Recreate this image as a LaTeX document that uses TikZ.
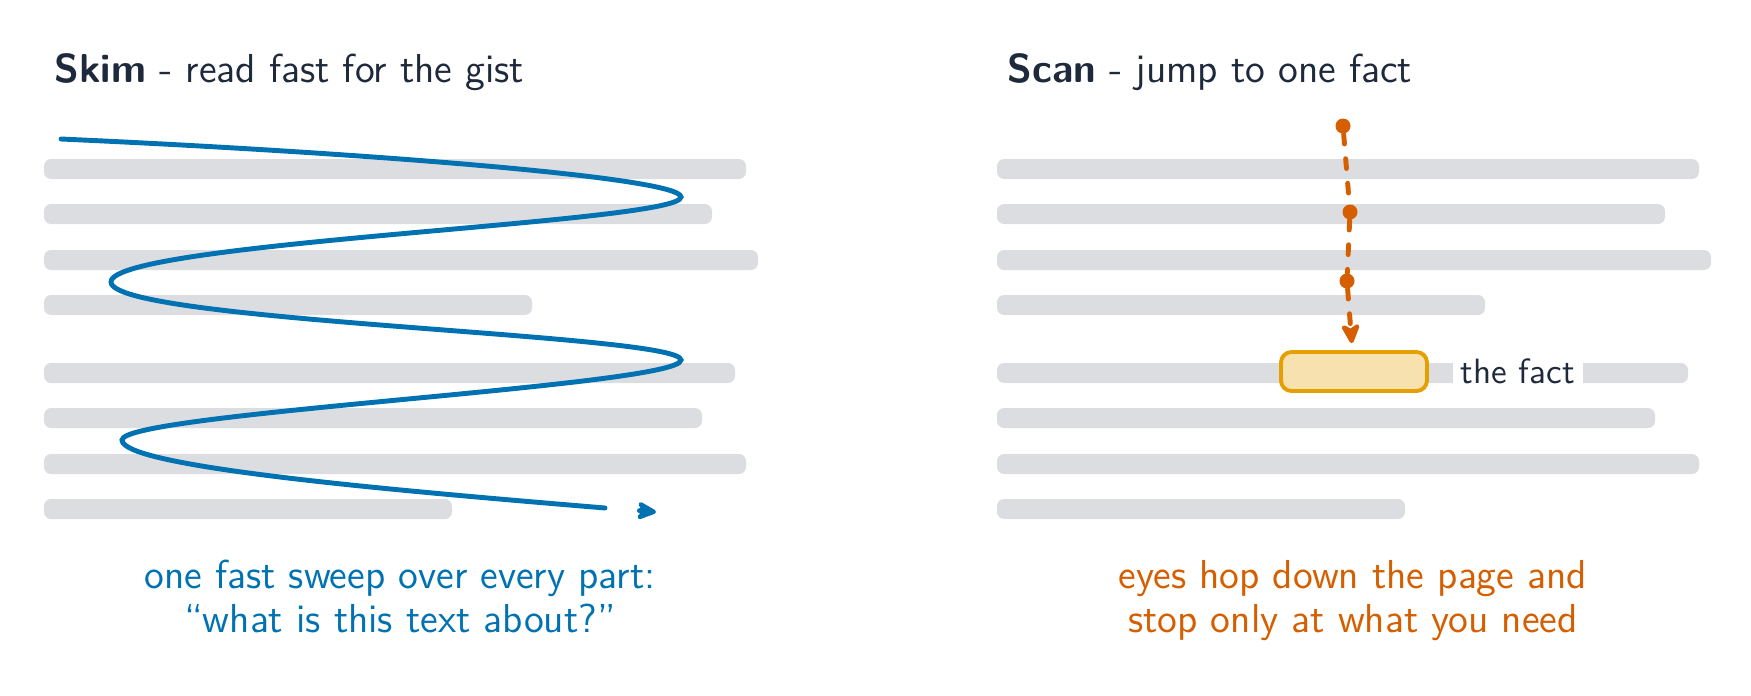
\documentclass[tikz,border=0pt]{standalone}
\usepackage{xcolor}
\usepackage{tikz}
\usetikzlibrary{positioning,arrows.meta}
\definecolor{skimblue}{RGB}{0,114,178}
\definecolor{scanorange}{RGB}{213,94,0}
\definecolor{factgold}{RGB}{230,159,0}
\definecolor{factfill}{RGB}{247,226,175}
\definecolor{linegray}{RGB}{220,221,225}
\definecolor{inkdark}{RGB}{30,41,59}

\begin{document}
\begin{tikzpicture}[
  font=\sffamily\fontsize{11.5}{12.5}\selectfont,
  textbar/.style={fill=linegray,rounded corners=2pt},
  title/.style={anchor=base west,text=inkdark,inner sep=0pt},
  captext/.style={align=center,anchor=base,inner sep=0pt},
  scandot/.style={circle,fill=scanorange,minimum size=1.5mm,inner sep=0pt},
  skimhead/.style={-{Stealth[length=7pt,width=6.5pt,inset=2.2pt,round]}},
  scanhead/.style={-{Stealth[length=7pt,width=6.5pt,inset=2pt,round]}}
]
\useasboundingbox (0,0) rectangle (17.51,-6.95);
% titles
\node[title] (skimtitle) at (0.54,-0.82) {\textbf{Skim} - read fast for the gist};
\node[title] (scantitle) at (10.07,-0.82) {\textbf{Scan} - jump to one fact};
% text lines (same page twice)
\foreach \y/\w in {1.69/7.02,2.14/6.68,2.60/7.14,3.05/4.88,3.73/6.91,4.18/6.58,4.64/7.02,5.09/4.08}{
  \fill[textbar] (0.44,{-\y+0.1}) rectangle ++(\w,-0.2);
  \fill[textbar] (9.97,{-\y+0.1}) rectangle ++(\w,-0.2);
}
% skim sweep, head set off from the line end
\coordinate (skimstart) at (0.61,-1.39);
\coordinate (skimend) at (6.05,-5.08);
\coordinate (skimgap) at (6.394,-5.106);
\coordinate (skimtip) at (6.56,-5.12);
\draw[skimblue,line width=1.4pt,line cap=round,skimhead]
  (skimstart) .. controls (3.50,-1.52) and (6.81,-1.77) .. (6.81,-1.97)
  .. controls (6.81,-2.23) and (1.11,-2.42) .. (1.11,-2.82)
  .. controls (1.11,-3.22) and (6.81,-3.34) .. (6.81,-3.60)
  .. controls (6.81,-3.86) and (1.22,-4.13) .. (1.22,-4.40)
  .. controls (1.22,-4.67) and (3.90,-4.90) .. (skimend)
  (skimgap) -- (skimtip);
% scan hops
\node[draw=factgold,fill=factfill,line width=1.1pt,rounded corners=3pt,
      minimum width=1.46cm,minimum height=0.39cm,inner sep=0pt] (fact) at (13.54,-3.715) {};
\node[fill=white,text=inkdark,inner sep=0.08cm,font=\sffamily\fontsize{10}{12}\selectfont,
      right=0.23cm of fact] (factlabel) {the fact};
\node[scandot] (s1) at (13.43,-1.26) {};
\node[scandot] (s2) at (13.50,-2.12) {};
\node[scandot] (s3) at (13.47,-2.81) {};
\draw[scanorange,line width=1.4pt,line cap=round,dash pattern=on 2.8pt off 4.2pt,scanhead,shorten >=2pt]
  (s1) -- (s2) -- (s3) -- (fact);
% captions
\node[captext,text=skimblue] (skimcap) at (4.00,-6.32)
  {one fast sweep over every part:\\``what is this text about?''};
\node[captext,text=scanorange] (scancap) at (13.53,-6.32)
  {eyes hop down the page and\\stop only at what you need};
\end{tikzpicture}
\end{document}
